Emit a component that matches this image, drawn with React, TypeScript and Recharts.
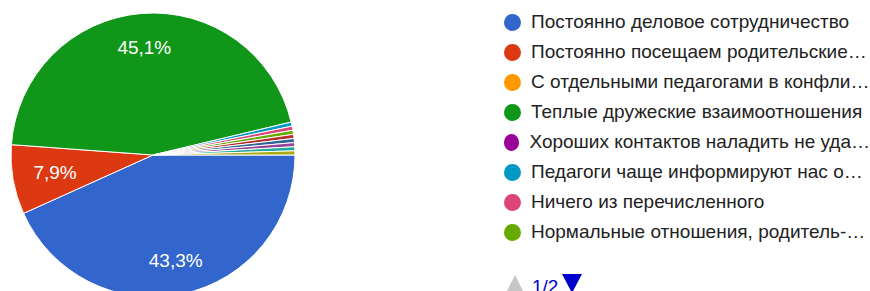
import React from 'react';
import { PieChart, Pie, Cell, Legend } from 'recharts';

// варианты ответов (порядок как в легенде)
const answers = [
  'Постоянно деловое сотрудничество',
  'Постоянно посещаем родительские…',
  'С отдельными педагогами в конфли…',
  'Теплые дружеские взаимоотношения',
  'Хороших контактов наладить не уда…',
  'Педагоги чаще информируют нас о…',
  'Ничего из перечисленного',
  'Нормальные отношения, родитель-…',
  'Другой ответ 1',
  'Другой ответ 2',
  'Другой ответ 3',
  'Другой ответ 4',
  'Другой ответ 5',
];

// число ответов (всего 215)
const counts = [93, 17, 0, 97, 0, 1, 1, 1, 1, 1, 1, 1, 1];

const colors = [
  '#3366cc', '#dc3912', '#ff9900', '#109618', '#990099', '#0099c6', '#dd4477',
  '#66aa00', '#b82e2e', '#316395', '#994499', '#22aa99', '#aaaa11',
];

const pageSize = 8;
const pageLabel = '1/2';

const data = answers.map((name, i) => ({ name, value: counts[i] }));

const FONT = 'Arial, "Liberation Sans", sans-serif';
const RAD = Math.PI / 180;

const renderLabel = (props: any) => {
  const { cx, cy, midAngle, outerRadius, percent } = props;
  if (percent < 0.05) return null;
  // узкие сектора — подпись ближе к центру
  const r = outerRadius * (percent < 0.1 ? 0.7 : 0.76);
  const x = cx + r * Math.cos(-midAngle * RAD);
  const y = cy + r * Math.sin(-midAngle * RAD);
  return (
    <text x={x} y={y} fill="#ffffff" textAnchor="middle" dominantBaseline="central"
      fontFamily={FONT} fontSize={19}>
      {(percent * 100).toFixed(1).replace('.', ',') + '%'}
    </text>
  );
};

const LegendBox = () => (
  <div style={{ position: 'relative', height: 284, fontFamily: FONT, fontSize: 19, color: '#222222' }}>
    {answers.slice(0, pageSize).map((name, i) => (
      <div key={name} style={{ height: 30, display: 'flex', alignItems: 'center', whiteSpace: 'nowrap' }}>
        <span style={{ display: 'inline-block', width: 17, height: 17, borderRadius: '50%', background: colors[i], marginRight: 10 }} />
        <span>{name}</span>
      </div>
    ))}
    <svg width={100} height={20} style={{ position: 'absolute', left: 0, top: 266 }}>
      <polygon points="3,2 11,18 -5,18" transform="translate(8,0)" fill="#c6c6c6" />
      <text x={28} y={20} fontFamily={FONT} fontSize={19} fill="#0000cc">{pageLabel}</text>
      <polygon points="58,1 78,1 68,20" fill="#0000cc" />
    </svg>
  </div>
);

export default function App() {
  return (
    <div style={{ position: 'absolute', left: 0, top: 0, width: 870, height: 291, overflow: 'hidden', background: '#fff' }}>
      <PieChart width={870} height={291} margin={{ top: 0, right: 0, bottom: 0, left: 0 }}>
        <Pie
          data={data}
          dataKey="value"
          nameKey="name"
          cx={153}
          cy={155}
          outerRadius={142}
          startAngle={0}
          endAngle={-360}
          stroke="#ffffff"
          strokeWidth={1}
          label={renderLabel}
          labelLine={false}
          isAnimationActive={false}
        >
          {data.map((d, i) => (
            <Cell key={d.name} fill={colors[i]} />
          ))}
        </Pie>
        <Legend
          layout="vertical"
          align="right"
          verticalAlign="top"
          content={<LegendBox />}
          wrapperStyle={{ position: 'absolute', left: 504, top: 7, width: 366 }}
        />
      </PieChart>
    </div>
  );
}
